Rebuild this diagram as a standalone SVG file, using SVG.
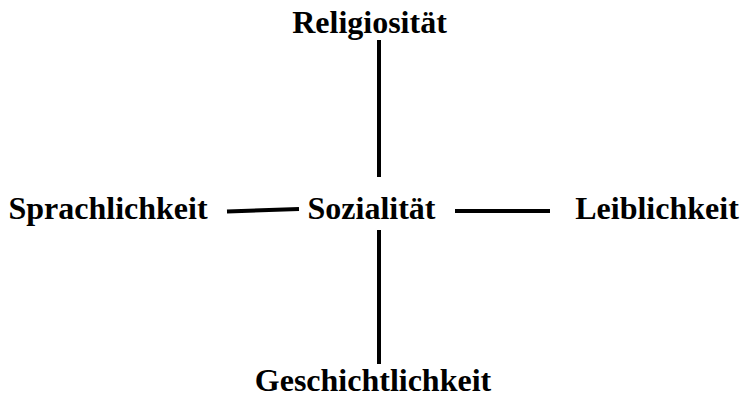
<svg xmlns="http://www.w3.org/2000/svg" width="742" height="405" viewBox="0 0 742 405">
<style>
.t{font-family:"Liberation Serif","Times New Roman",serif;font-weight:bold;font-size:32px;fill:#000}
.c{stroke:#000;stroke-width:4;fill:none}
</style>
<rect width="742" height="405" fill="#fff"/>
<g id="connectors">
<line class="c" x1="379" y1="40" x2="379" y2="177"/>
<line class="c" x1="379" y1="230" x2="379" y2="364"/>
<line class="c" x1="227" y1="211.5" x2="299" y2="209"/>
<line class="c" x1="455" y1="211" x2="550" y2="211"/>
</g>
<g id="religiositaet"><text class="t" x="369.5" y="33" text-anchor="middle">Religiosität</text></g>
<g id="sprachlichkeit"><text class="t" x="108" y="219" text-anchor="middle">Sprachlichkeit</text></g>
<g id="sozialitaet"><text class="t" x="371.5" y="219" text-anchor="middle">Sozialität</text></g>
<g id="leiblichkeit"><text class="t" x="657" y="219" text-anchor="middle">Leiblichkeit</text></g>
<g id="geschichtlichkeit"><text class="t" x="373" y="391" text-anchor="middle">Geschichtlichkeit</text></g>
</svg>
